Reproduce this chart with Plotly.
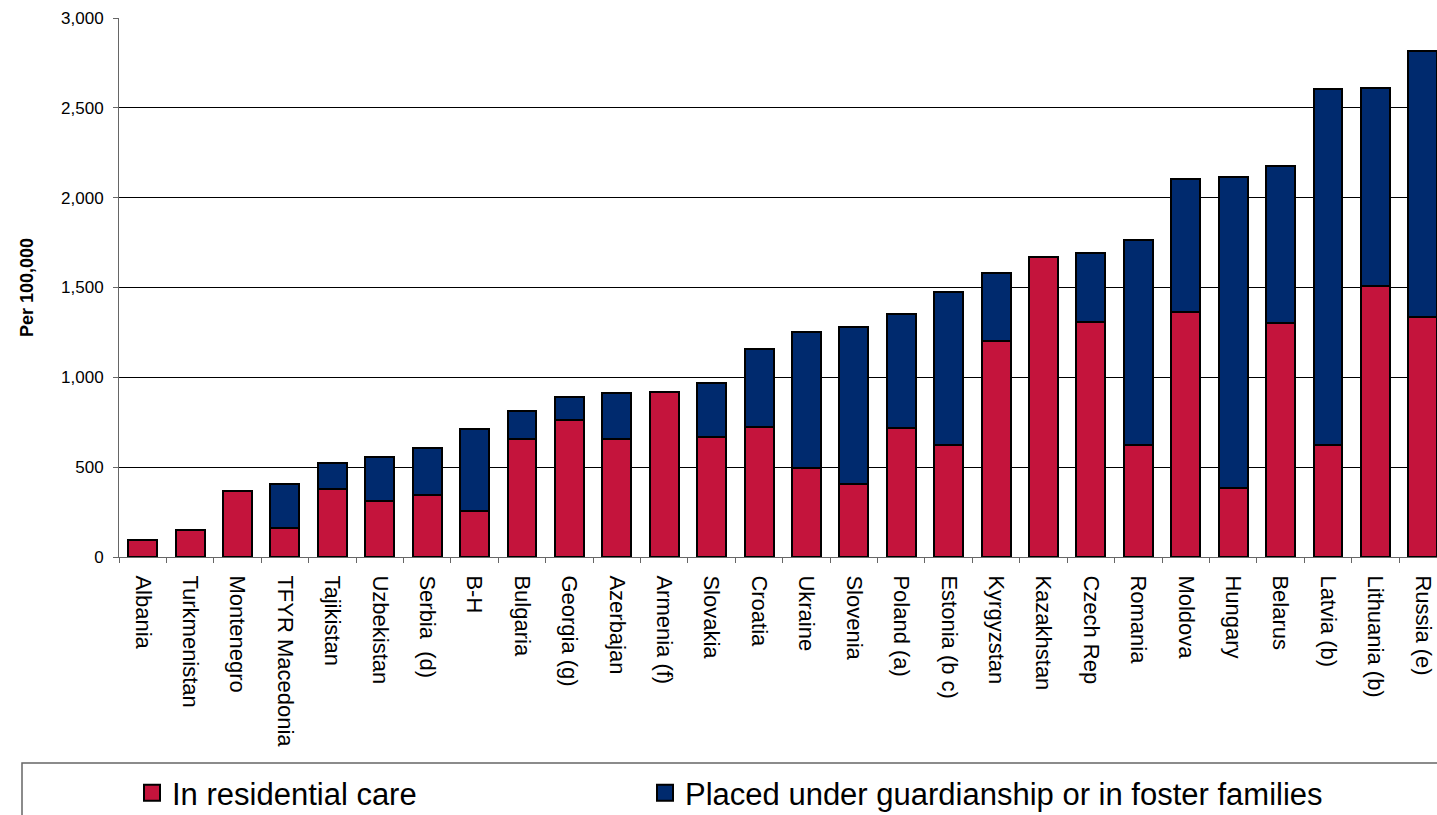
import plotly.graph_objects as go

countries = ["Albania", "Turkmenistan", "Montenegro", "TFYR Macedonia", "Tajikistan",
             "Uzbekistan", "Serbia\u00a0 (d)", "B-H", "Bulgaria", "Georgia (g)", "Azerbajan",
             "Armenia (f)", "Slovakia", "Croatia", "Ukraine", "Slovenia", "Poland (a)",
             "Estonia (b c)", "Kyrgyzstan", "Kazakhstan", "Czech Rep", "Romania", "Moldova",
             "Hungary", "Belarus", "Latvia (b)", "Lithuania (b)", "Russia (e)"]

residential = [97, 153, 368, 160, 376, 309, 344, 255, 658, 762, 655, 920, 666, 725, 496,
               405, 720, 622, 1202, 1668, 1309, 622, 1365, 385, 1302, 623, 1506, 1334]
totals = [97, 153, 368, 404, 523, 556, 606, 710, 813, 891, 915, 920, 969, 1157, 1253,
          1281, 1354, 1476, 1583, 1668, 1694, 1766, 2102, 2115, 2177, 2607, 2613, 2816]
guardianship = [t - r for t, r in zip(totals, residential)]

RED = "#C4143C"
BLUE = "#002A6E"
FONT = "Liberation Sans, Arial, sans-serif"

fig = go.Figure()
fig.add_trace(go.Bar(x=countries, y=residential, name="In residential care",
                     marker=dict(color=RED, line=dict(color="black", width=2)),
                     showlegend=False))
fig.add_trace(go.Bar(x=countries, y=guardianship, name="Placed under guardianship or in foster families",
                     marker=dict(color=BLUE, line=dict(color="black", width=2)),
                     showlegend=False))
# legend entries with larger square symbols
fig.add_trace(go.Scatter(x=[None], y=[None], mode="markers", name="In residential care",
                         legend="legend",
                         marker=dict(symbol="square", size=20, color=RED,
                                     line=dict(color="black", width=2))))
fig.add_trace(go.Scatter(x=[None], y=[None], mode="markers",
                         name="Placed under guardianship or in foster families",
                         legend="legend2",
                         marker=dict(symbol="square", size=20, color=BLUE,
                                     line=dict(color="black", width=2))))

plot_left, plot_top, plot_bottom = 119, 18, 557
W, H = 1437, 815
pw = W - plot_left
ph = plot_bottom - plot_top
leg_y = (plot_bottom - 793) / ph

legend_common = dict(orientation="h", yanchor="middle", y=leg_y, xanchor="left",
                     font=dict(size=31), bgcolor="rgba(0,0,0,0)", borderwidth=0,
                     itemclick=False, itemdoubleclick=False)

fig.update_layout(
    width=W, height=H,
    margin=dict(l=plot_left, r=0, t=plot_top, b=H - plot_bottom, pad=0, autoexpand=False),
    barmode="stack", bargap=0.39,
    plot_bgcolor="white", paper_bgcolor="white",
    font=dict(family=FONT, color="black"),
    xaxis=dict(range=[-0.5, 27.3], tickangle=90, tickfont=dict(size=22),
               ticks="outside", tickson="boundaries", ticklen=5, tickcolor="#666",
               showline=True, linecolor="#666", linewidth=1, showgrid=False,
               ticklabelstandoff=13, fixedrange=True),
    yaxis=dict(range=[0, 3000], dtick=500, tickformat=",d", tickfont=dict(size=17),
               ticks="outside", ticklen=5, tickcolor="#666",
               showline=True, linecolor="#666", linewidth=1,
               showgrid=True, gridcolor="black", gridwidth=1,
               ticklabelstandoff=6,
               title=dict(text="<b>Per 100,000</b>", font=dict(size=18), standoff=22)),
    legend=dict(legend_common, x=(132 - plot_left) / pw),
    legend2=dict(legend_common, x=(645 - plot_left) / pw),
    shapes=[dict(type="rect", xref="paper", yref="paper",
                 x0=(22 - plot_left) / pw, x1=1.05,
                 y0=(plot_bottom - 830) / ph, y1=(plot_bottom - 763) / ph,
                 line=dict(color="#666", width=1.5), fillcolor="rgba(0,0,0,0)", layer="below")],
)

fig.write_html("out.html")
